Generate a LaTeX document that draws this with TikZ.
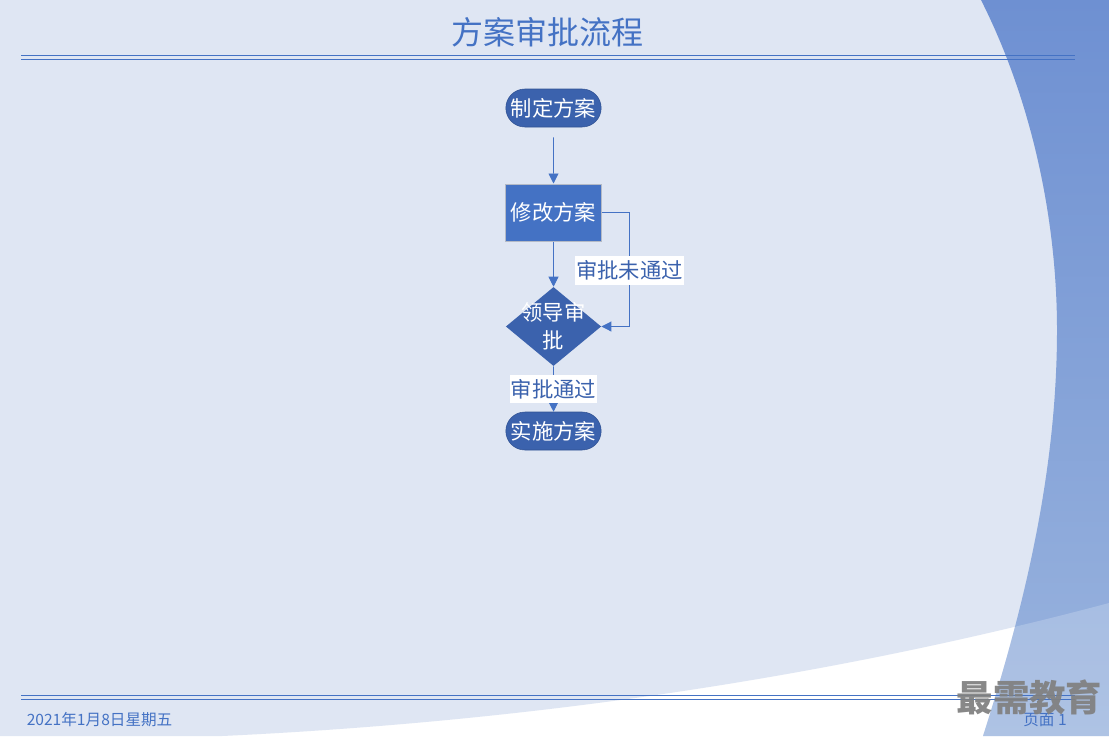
\documentclass[tikz,border=0pt]{standalone}
\usepackage{fontspec}
\setmainfont{Noto Sans CJK SC}
\usetikzlibrary{arrows.meta,shapes.geometric,shapes.misc}

\definecolor{pagelight}{HTML}{DFE6F3}
\definecolor{bandtop}{HTML}{6E90D2}
\definecolor{bandbottom}{HTML}{9AB4DE}
\definecolor{accent}{HTML}{4472C4}
\definecolor{accentdark}{HTML}{3B62AD}
\definecolor{boxedge}{HTML}{B4BAC6}

\tikzset{
  endbox/.style={rounded rectangle,draw=accentdark!85!black,line width=.4pt,fill=accentdark,text=white,
    minimum width=71.5pt,minimum height=28.5pt,inner sep=0pt,font=\fontsize{16}{20}\selectfont},
  stepbox/.style={rectangle,draw=boxedge,line width=.75pt,fill=accent,text=white,
    minimum width=71.5pt,minimum height=42.75pt,inner sep=0pt,font=\fontsize{16}{20}\selectfont},
  checkbox/.style={diamond,fill=accentdark,minimum width=71.5pt,minimum height=59.25pt,inner sep=0pt},
  flowline/.style={accent,line width=.7pt,-{Triangle[length=7.5pt,width=7.5pt]}},
  flowlabel/.style={fill=white,text=accentdark,inner xsep=.6pt,inner ysep=0pt,minimum height=21.5pt,
    font=\fontsize{16}{20}\selectfont},
  rulepair/.style={accent,line width=.75pt},
  footnote/.style={text=accent,inner sep=0pt,font=\fontsize{11.7}{14}\selectfont}
}

\begin{document}
\begin{tikzpicture}[x=.75pt,y=-.75pt]

\useasboundingbox (0,0) rectangle (1109,736);

\fill [white] (0,0) rectangle (1109,736);

\fill [pagelight] (0,0) -- (1109,0) -- (1109,603) .. controls (820,680) and (520,722) .. (222,736) -- (0,736) -- cycle;

\shade [top color=bandtop,bottom color=bandbottom] (981,0) .. controls (1034,105) and (1057,225) .. (1057,330) .. controls (1057,480) and (1020,620) .. (983,736) -- (1109,736) -- (1109,0) -- cycle;

\begin{scope}
\clip (1109,603) .. controls (820,680) and (520,722) .. (222,736) -- (1109,736) -- cycle;
\fill [white,opacity=.2] (981,0) .. controls (1034,105) and (1057,225) .. (1057,330) .. controls (1057,480) and (1020,620) .. (983,736) -- (1109,736) -- (1109,0) -- cycle;
\end{scope}

\draw [rulepair] (21,55.5) -- (1075,55.5);
\draw [rulepair] (21,59.5) -- (1075,59.5);
\draw [rulepair] (21,695.5) -- (1075,695.5);
\draw [rulepair] (21,699.5) -- (1075,699.5);

\node (title) [text=accent,font=\fontsize{24}{28}\selectfont] at (547.5,32) {方案审批流程};

\node (plan) [endbox] at (553.5,108) {制定方案};
\node (revise) [stepbox] at (553.5,212.5) {修改方案};
\node (review) [checkbox,label={[text=white,align=center,font=\fontsize{16}{21.25}\selectfont]center:领导审\\批}] at (553.5,326.5) {};
\node (carry) [endbox] at (553.5,431) {实施方案};

\coordinate (loopa) at (629.5,212.5);
\coordinate (loopb) at (629.5,326.5);

\draw [flowline,shorten <=7.5pt] (plan) -- (revise);
\draw [flowline] (revise) -- (review);
\draw [flowline] (revise.east) -- (loopa) -- node [flowlabel,yshift=-.5pt] (rejected) {审批未通过} (loopb) -- (review.east);
\draw [flowline] (review) -- node [flowlabel] (passed) {审批通过} (carry);

\node (date) [footnote,anchor=west] at (26.5,720) {2021年1月8日星期五};
\node (page) [footnote,anchor=east] at (1067,720) {页面 1};

\node (mark) [text=black!50!white,opacity=.93,font=\fontsize{27.3}{30}\selectfont\bfseries] at (1029.5,697) {最需教育};

\end{tikzpicture}
\end{document}
